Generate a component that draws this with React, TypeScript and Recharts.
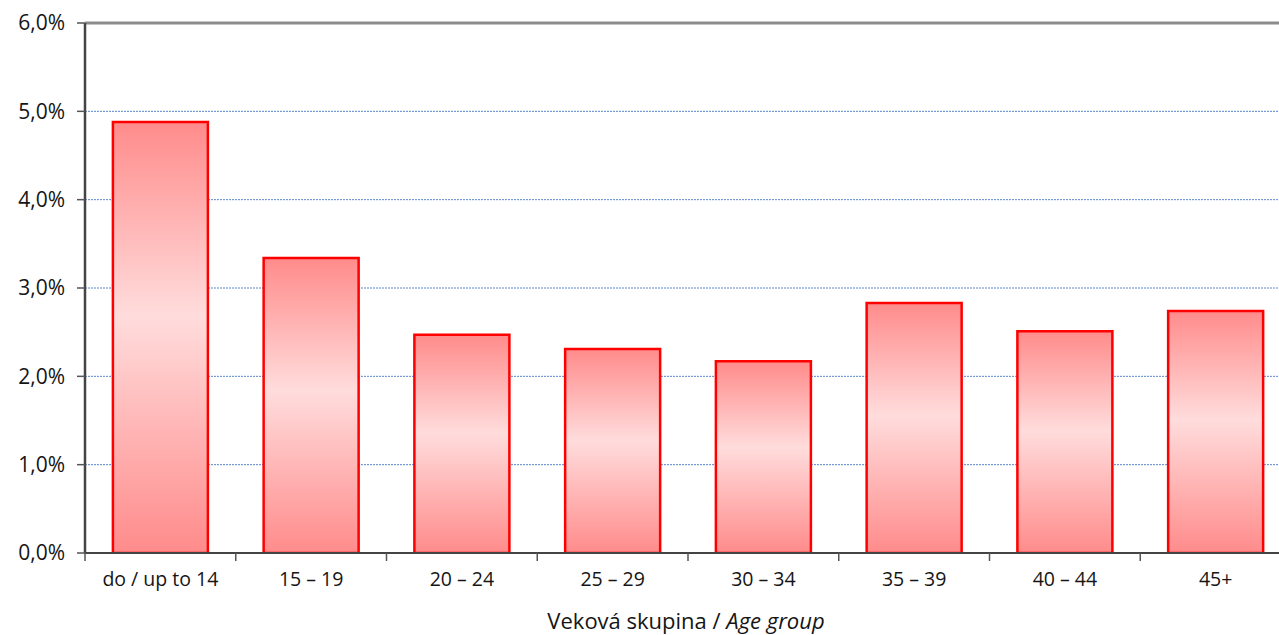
import { BarChart, Bar, XAxis, YAxis, CartesianGrid, ReferenceLine } from "recharts";

const ageGroups = ["do / up to 14", "15 – 19", "20 – 24", "25 – 29", "30 – 34", "35 – 39", "40 – 44", "45+"];
const shares = [4.88, 3.34, 2.47, 2.31, 2.17, 2.83, 2.51, 2.74];
const yTicks = [0, 1, 2, 3, 4, 5, 6];

const data = ageGroups.map((group, i) => ({ group, share: shares[i] }));

const FONT = "'Open Sans', Lato, sans-serif";
const TEXT = "#151515";

const pct = (v: number) => v.toFixed(1).replace(".", ",") + "%";

// category tick: label in the middle, tick line at the left boundary of the band
const GroupTick = (props: any) => {
  const { x, y, payload, width, visibleTicksCount } = props;
  const half = width / visibleTicksCount / 2;
  const axisY = y - 19;
  return (
    <g>
      <line x1={x - half} x2={x - half} y1={axisY} y2={axisY + 8} stroke="#555" strokeWidth={1.5} />
      <text x={x} y={y} dy="0.71em" textAnchor="middle" fill={TEXT} fontSize={19.5} fontFamily={FONT}>
        {payload.value}
      </text>
    </g>
  );
};

const AxisTitle = (props: any) => {
  const { viewBox } = props;
  return (
    <text
      x={viewBox.x + viewBox.width / 2 - 2}
      y={viewBox.y + viewBox.height - 6}
      textAnchor="middle"
      fill={TEXT}
      fontSize={22}
      fontFamily={FONT}
    >
      Veková skupina / <tspan fontStyle="italic">Age group</tspan>
    </text>
  );
};

export default function App() {
  return (
    <div style={{ position: "absolute", left: 0, top: 0, background: "#fff", overflow: "hidden", width: 1279, height: 635 }}>
      <BarChart
        width={1291}
        height={635}
        data={data}
        margin={{ top: 23, right: 0, left: 0, bottom: 0 }}
        barCategoryGap="18.5%"
      >
        <defs>
          <linearGradient id="barFill" x1="0" y1="0" x2="0" y2="1">
            <stop offset="0%" stopColor="#ff8b8b" />
            <stop offset="45%" stopColor="#ffdcdc" />
            <stop offset="100%" stopColor="#ff8b8b" />
          </linearGradient>
        </defs>
        <CartesianGrid vertical={false} stroke="#5b86cc" strokeDasharray="2 1" />
        <XAxis
          dataKey="group"
          height={82}
          tickLine={false}
          tickSize={8}
          tickMargin={11}
          axisLine={{ stroke: "#444", strokeWidth: 2 }}
          tick={<GroupTick />}
          interval={0}
          label={{ content: <AxisTitle /> }}
        />
        <YAxis
          width={85}
          domain={[0, 6]}
          ticks={yTicks}
          tickFormatter={pct}
          tickSize={8}
          tickMargin={12}
          tickLine={{ stroke: "#555", strokeWidth: 1.5 }}
          axisLine={{ stroke: "#444", strokeWidth: 2.5 }}
          tick={{ fill: TEXT, fontSize: 21, fontFamily: FONT }}
          allowDataOverflow
        />
        <ReferenceLine y={6} stroke="#8c8c8c" strokeWidth={3} />
        <Bar
          dataKey="share"
          fill="url(#barFill)"
          stroke="#ff0000"
          strokeWidth={2.5}
          isAnimationActive={false}
        />
      </BarChart>
    </div>
  );
}
